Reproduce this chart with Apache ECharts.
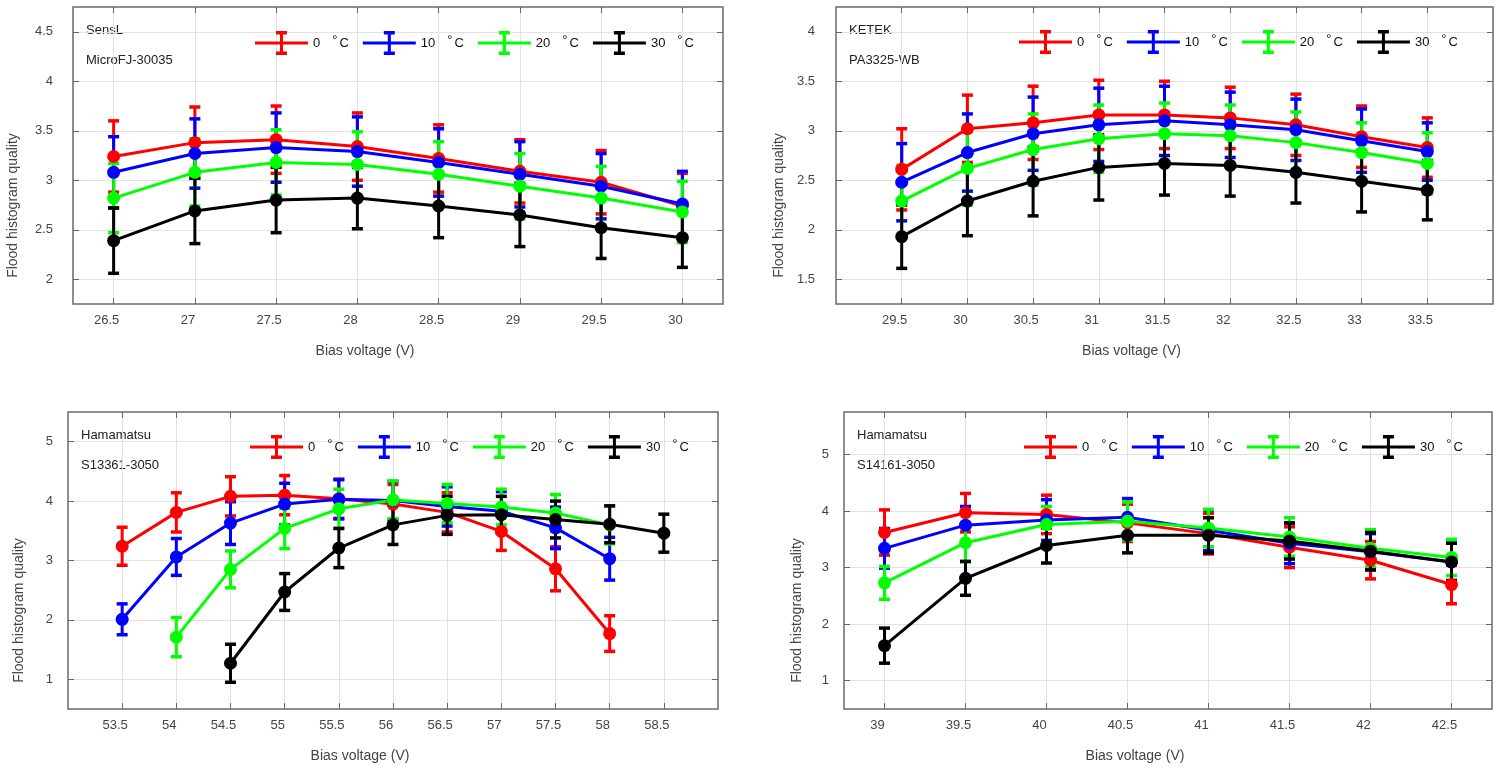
<!DOCTYPE html>
<html><head><meta charset="utf-8">
<script src="https://cdn.jsdelivr.net/npm/echarts@6/dist/echarts.min.js"></script>
<style>html,body{margin:0;padding:0;background:#fff}#c{width:1497px;height:770px}</style>
</head><body><div id="c"></div>
<script>
// ---------- data ----------
const tempLabels = ['0', '10', '20', '30'];
const seriesColors = ['#ff0000', '#0000ff', '#00ff00', '#000000'];
const xAxisTitle = 'Bias voltage (V)';
const yAxisTitle = 'Flood histogram quality';

// SensL MicroFJ-30035
const sensLVoltage = [26.5, 27, 27.5, 28, 28.5, 29, 29.5, 30];
const sensL0 = [3.24, 3.38, 3.41, 3.34, 3.22, 3.09, 2.98, 2.74];
const sensL0Err = [0.36, 0.36, 0.34, 0.34, 0.34, 0.32, 0.32, 0.33];
const sensL10 = [3.08, 3.27, 3.33, 3.29, 3.18, 3.06, 2.94, 2.76];
const sensL10Err = [0.36, 0.35, 0.35, 0.35, 0.34, 0.33, 0.33, 0.33];
const sensL20 = [2.82, 3.08, 3.18, 3.16, 3.06, 2.94, 2.82, 2.68];
const sensL20Err = [0.35, 0.34, 0.33, 0.33, 0.33, 0.33, 0.32, 0.31];
const sensL30 = [2.39, 2.69, 2.80, 2.82, 2.74, 2.65, 2.52, 2.42];
const sensL30Err = [0.33, 0.33, 0.33, 0.31, 0.32, 0.32, 0.31, 0.30];
const sensLXTicks = [26.5, 27, 27.5, 28, 28.5, 29, 29.5, 30];
const sensLYTicks = [2, 2.5, 3, 3.5, 4, 4.5];

// KETEK PA3325-WB
const ketekVoltage = [29.5, 30, 30.5, 31, 31.5, 32, 32.5, 33, 33.5];
const ketek0 = [2.61, 3.02, 3.08, 3.16, 3.16, 3.13, 3.06, 2.94, 2.83];
const ketek0Err = [0.41, 0.34, 0.37, 0.35, 0.34, 0.31, 0.31, 0.31, 0.30];
const ketek10 = [2.48, 2.78, 2.97, 3.06, 3.10, 3.06, 3.01, 2.90, 2.79];
const ketek10Err = [0.39, 0.39, 0.37, 0.37, 0.35, 0.33, 0.31, 0.32, 0.29];
const ketek20 = [2.29, 2.62, 2.81, 2.92, 2.97, 2.95, 2.88, 2.78, 2.67];
const ketek20Err = [0.36, 0.37, 0.36, 0.34, 0.31, 0.31, 0.31, 0.30, 0.31];
const ketek30 = [1.93, 2.29, 2.49, 2.63, 2.67, 2.65, 2.58, 2.49, 2.40];
const ketek30Err = [0.32, 0.35, 0.35, 0.33, 0.32, 0.31, 0.31, 0.31, 0.30];
const ketekXTicks = [29.5, 30, 30.5, 31, 31.5, 32, 32.5, 33, 33.5];
const ketekYTicks = [1.5, 2, 2.5, 3, 3.5, 4];

// Hamamatsu S13361-3050
const s13361Voltage = [53.5, 54, 54.5, 55, 55.5, 56, 56.5, 57, 57.5, 58, 58.5];
const s13361_0 = [3.24, 3.81, 4.08, 4.10, 4.04, 3.95, 3.81, 3.49, 2.86, 1.77, null];
const s13361_0Err = [0.32, 0.33, 0.33, 0.33, 0.33, 0.33, 0.33, 0.32, 0.37, 0.30, null];
const s13361_10 = [2.01, 3.06, 3.63, 3.95, 4.03, 4.01, 3.91, 3.83, 3.55, 3.03, null];
const s13361_10Err = [0.26, 0.31, 0.36, 0.35, 0.33, 0.32, 0.33, 0.33, 0.35, 0.36, null];
const s13361_20 = [null, 1.71, 2.85, 3.54, 3.87, 4.02, 3.96, 3.90, 3.80, 3.60, null];
const s13361_20Err = [null, 0.33, 0.31, 0.34, 0.33, 0.32, 0.32, 0.30, 0.31, 0.32, null];
const s13361_30 = [null, null, 1.27, 2.47, 3.21, 3.60, 3.76, 3.77, 3.69, 3.61, 3.46];
const s13361_30Err = [null, null, 0.32, 0.31, 0.33, 0.33, 0.32, 0.31, 0.31, 0.31, 0.32];
const s13361XTicks = [53.5, 54, 54.5, 55, 55.5, 56, 56.5, 57, 57.5, 58, 58.5];
const s13361YTicks = [1, 2, 3, 4, 5];

// Hamamatsu S14161-3050
const s14161Voltage = [39, 39.5, 40, 40.5, 41, 41.5, 42, 42.5];
const s14161_0 = [3.62, 3.97, 3.94, 3.79, 3.60, 3.36, 3.13, 2.70];
const s14161_0Err = [0.40, 0.34, 0.34, 0.33, 0.36, 0.36, 0.33, 0.34];
const s14161_10 = [3.34, 3.75, 3.84, 3.89, 3.66, 3.43, 3.28, 3.10];
const s14161_10Err = [0.35, 0.33, 0.36, 0.33, 0.36, 0.36, 0.32, 0.33];
const s14161_20 = [2.73, 3.44, 3.76, 3.82, 3.70, 3.54, 3.34, 3.18];
const s14161_20Err = [0.29, 0.34, 0.32, 0.34, 0.33, 0.34, 0.33, 0.32];
const s14161_30 = [1.62, 2.81, 3.39, 3.57, 3.57, 3.47, 3.29, 3.10];
const s14161_30Err = [0.31, 0.30, 0.31, 0.31, 0.31, 0.32, 0.33, 0.33];
const s14161XTicks = [39, 39.5, 40, 40.5, 41, 41.5, 42, 42.5];
const s14161YTicks = [1, 2, 3, 4, 5];

// ---------- layout ----------
const FONT = '"Liberation Sans", Arial, Helvetica, sans-serif';
const panels = [
  {brand: 'SensL', model: 'MicroFJ-30035', x: sensLVoltage,
   vals: [sensL0, sensL10, sensL20, sensL30], errs: [sensL0Err, sensL10Err, sensL20Err, sensL30Err],
   xMin: 26.25, xMax: 30.25, yMin: 1.75, yMax: 4.75, xTicks: sensLXTicks, yTicks: sensLYTicks,
   grid: {left: 73, top: 7, width: 650, height: 297}, legend: {left: 255, top: 31},
   yLabelMargin: 20, yNameGap: 53},
  {brand: 'KETEK', model: 'PA3325-WB', x: ketekVoltage,
   vals: [ketek0, ketek10, ketek20, ketek30], errs: [ketek0Err, ketek10Err, ketek20Err, ketek30Err],
   xMin: 29, xMax: 34, yMin: 1.25, yMax: 4.25, xTicks: ketekXTicks, yTicks: ketekYTicks,
   grid: {left: 836, top: 7, width: 657, height: 297}, legend: {left: 1019, top: 30},
   yLabelMargin: 21, yNameGap: 50},
  {brand: 'Hamamatsu', model: 'S13361-3050', x: s13361Voltage,
   vals: [s13361_0, s13361_10, s13361_20, s13361_30], errs: [s13361_0Err, s13361_10Err, s13361_20Err, s13361_30Err],
   xMin: 53, xMax: 59, yMin: 0.5, yMax: 5.5, xTicks: s13361XTicks, yTicks: s13361YTicks,
   grid: {left: 68, top: 412, width: 650, height: 297}, legend: {left: 250, top: 435},
   yLabelMargin: 15, yNameGap: 42},
  {brand: 'Hamamatsu', model: 'S14161-3050', x: s14161Voltage,
   vals: [s14161_0, s14161_10, s14161_20, s14161_30], errs: [s14161_0Err, s14161_10Err, s14161_20Err, s14161_30Err],
   xMin: 38.75, xMax: 42.75, yMin: 0.5, yMax: 5.75, xTicks: s14161XTicks, yTicks: s14161YTicks,
   grid: {left: 844, top: 412, width: 648, height: 297}, legend: {left: 1024, top: 435},
   yLabelMargin: 15, yNameGap: 40}
];

const ERR_ICON = 'path://M0,10.5h53v3h-53z M25,0h3v24h-3z M21,0h11v3.5h-11z M21,20.5h11v3.5h-11z';
const seriesNames = tempLabels.map(t => t + ' \u00B0C');

const grids = [], xAxes = [], yAxes = [], series = [], legends = [], graphics = [];
const tickStyle = {show: true, inside: true, length: 6, lineStyle: {color: '#666', width: 1}};
const gridLine = {show: true, lineStyle: {color: '#e2e2e2', width: 1}};

panels.forEach((p, i) => {
  grids.push(Object.assign({show: true, borderColor: '#6a6a6a', borderWidth: 1.5,
    backgroundColor: 'transparent', containLabel: false, outerBoundsMode: 'none'}, p.grid));
  xAxes.push({type: 'value', gridIndex: i, min: p.xMin, max: p.xMax, position: 'bottom',
    axisLine: {show: false},
    axisTick: Object.assign({customValues: p.xTicks}, tickStyle),
    axisLabel: {customValues: p.xTicks, margin: 10, fontSize: 13, color: '#444', fontFamily: FONT,
      padding: [0, 14, 0, 0]},
    splitLine: gridLine,
    name: xAxisTitle, nameLocation: 'middle', nameGap: 40,
    nameTextStyle: {fontSize: 14, color: '#444', fontFamily: FONT, padding: [0, 66, 0, 0]}});
  xAxes.push({type: 'value', gridIndex: i, min: p.xMin, max: p.xMax, position: 'top',
    axisLine: {show: false}, axisTick: Object.assign({customValues: p.xTicks}, tickStyle),
    axisLabel: {show: false}, splitLine: {show: false}});
  yAxes.push({type: 'value', gridIndex: i, min: p.yMin, max: p.yMax, position: 'left',
    axisLine: {show: false},
    axisTick: Object.assign({customValues: p.yTicks}, tickStyle),
    axisLabel: {customValues: p.yTicks, margin: p.yLabelMargin, fontSize: 13, color: '#444',
      fontFamily: FONT, padding: [0, 0, 11, 0]},
    splitLine: gridLine,
    name: yAxisTitle, nameLocation: 'middle', nameGap: p.yNameGap,
    nameTextStyle: {fontSize: 14, color: '#444', fontFamily: FONT, padding: [0, 100, 0, 0]}});
  yAxes.push({type: 'value', gridIndex: i, min: p.yMin, max: p.yMax, position: 'right',
    axisLine: {show: false}, axisTick: Object.assign({customValues: p.yTicks}, tickStyle),
    axisLabel: {show: false}, splitLine: {show: false}});

  tempLabels.forEach((t, j) => {
    const color = seriesColors[j];
    const vals = p.vals[j], errs = p.errs[j];
    const pts = [], bars = [];
    p.x.forEach((xv, k) => {
      if (vals[k] == null) return;
      pts.push([xv, vals[k]]);
      bars.push([xv, vals[k] - errs[k], vals[k] + errs[k]]);
    });
    series.push({
      type: 'custom', name: seriesNames[j], xAxisIndex: 2 * i, yAxisIndex: 2 * i,
      color: color, itemStyle: {color: color}, encode: {x: 0, y: [1, 2]},
      data: bars, silent: true,
      renderItem: function (params, api) {
        const xv = api.value(0);
        const top = api.coord([xv, api.value(2)]);
        const bot = api.coord([xv, api.value(1)]);
        const hw = 5.5;
        const st = {stroke: color, lineWidth: 3, fill: null};
        const cap = {stroke: color, lineWidth: 3.5, fill: null};
        return {type: 'group', children: [
          {type: 'line', shape: {x1: top[0], y1: top[1], x2: bot[0], y2: bot[1]}, style: st},
          {type: 'line', shape: {x1: top[0] - hw, y1: top[1], x2: top[0] + hw, y2: top[1]}, style: cap},
          {type: 'line', shape: {x1: bot[0] - hw, y1: bot[1], x2: bot[0] + hw, y2: bot[1]}, style: cap}
        ]};
      }
    });
    series.push({
      type: 'line', name: seriesNames[j], xAxisIndex: 2 * i, yAxisIndex: 2 * i,
      color: color, data: pts, symbol: 'circle', symbolSize: 13, showSymbol: true,
      lineStyle: {width: 3, color: color}, itemStyle: {color: color, borderWidth: 0},
      emphasis: {disabled: true}, silent: true
    });
  });

  legends.push({left: p.legend.left, top: p.legend.top, orient: 'horizontal',
    itemWidth: 53, itemHeight: 24, itemGap: 14, icon: ERR_ICON, data: seriesNames,
    selectedMode: false, padding: 0,
    itemStyle: {borderWidth: 0},
    formatter: function (name) {
      const num = name.split(' ')[0];
      return '{n|' + num + '}{d|\u00B0}{c|C}';
    },
    textStyle: {fontSize: 13, color: '#111', fontFamily: FONT,
      rich: {
        n: {fontSize: 13, color: '#111', fontFamily: FONT, padding: [0, 12, 0, 0]},
        d: {fontSize: 13, color: '#111', fontFamily: FONT, padding: [0, 2, 6, 0]},
        c: {fontSize: 13, color: '#111', fontFamily: FONT}
      }}});

  graphics.push({type: 'text', left: p.grid.left + 13, top: p.grid.top + 17,
    style: {text: p.brand, font: '13px ' + FONT, fill: '#222'}});
  graphics.push({type: 'text', left: p.grid.left + 13, top: p.grid.top + 47,
    style: {text: p.model, font: '13px ' + FONT, fill: '#222'}});
});

const chart = echarts.init(document.getElementById('c'), null, {renderer: 'canvas'});
chart.setOption({
  animation: false,
  backgroundColor: '#ffffff',
  grid: grids, xAxis: xAxes, yAxis: yAxes, series: series, legend: legends, graphic: graphics,
  tooltip: {show: false}
});
</script>
</body></html>
